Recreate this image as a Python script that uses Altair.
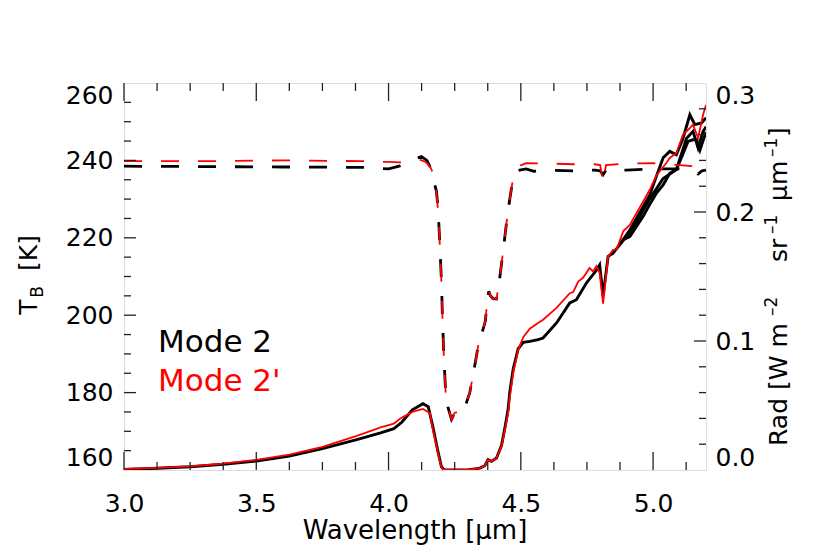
import altair as alt
import pandas as pd

# ---------------- data ----------------
# Radiance (right axis), red = Mode 2'
wl_rad_red = [3.00, 3.125, 3.25, 3.375, 3.50, 3.625, 3.75, 3.88, 3.97, 4.02, 4.045, 4.09, 4.13,
              4.156, 4.168, 4.187, 4.200, 4.210, 4.300, 4.345, 4.364, 4.376, 4.389, 4.408,
              4.427, 4.440, 4.452, 4.458, 4.471, 4.490, 4.509, 4.534, 4.565, 4.584, 4.635,
              4.685, 4.698, 4.717, 4.735, 4.760, 4.773, 4.786, 4.798, 4.811, 4.830, 4.849,
              4.862, 4.887, 4.912, 4.937, 4.962, 4.987, 5.013, 5.050, 5.063, 5.088, 5.113,
              5.139, 5.151, 5.170, 5.189, 5.200]
rad_red = [0.0008, 0.0016, 0.0028, 0.0049, 0.0078, 0.0119, 0.0180, 0.0265, 0.0330, 0.0360, 0.0400,
           0.0450, 0.0473, 0.0442, 0.0310, 0.0130, 0.0020, 0.0000, 0.0000, 0.0015, 0.0033,
           0.0080, 0.0067, 0.0093, 0.0183, 0.0310, 0.0440, 0.0560, 0.0750, 0.0930, 0.1030,
           0.1095, 0.1140, 0.1165, 0.1256, 0.1370, 0.1380, 0.1460, 0.1490, 0.1566, 0.1540,
           0.1580, 0.1527, 0.1290, 0.1656, 0.1707, 0.1710, 0.1850, 0.1900, 0.1990, 0.2080,
           0.2170, 0.2285, 0.2380, 0.2419, 0.2457, 0.2600, 0.2650, 0.2677, 0.2574, 0.2754,
           0.2830]

# Radiance, black = Mode 2 (main member)
wl_rad_blk = [3.00, 3.125, 3.25, 3.375, 3.50, 3.625, 3.75, 3.88, 3.97, 4.02, 4.05, 4.09, 4.13,
              4.150, 4.168, 4.187, 4.200, 4.210, 4.300, 4.345, 4.364, 4.376, 4.389, 4.408,
              4.427, 4.440, 4.452, 4.458, 4.471, 4.490, 4.509, 4.534, 4.565, 4.584, 4.635,
              4.685, 4.710, 4.748, 4.786, 4.798, 4.811, 4.830, 4.849, 4.874, 4.887, 4.912,
              4.962, 4.987, 5.013, 5.038, 5.063, 5.088, 5.113, 5.132, 5.151, 5.164, 5.177,
              5.200]
rad_blk = [0.0005, 0.0013, 0.0025, 0.0045, 0.0070, 0.0108, 0.0165, 0.0235, 0.0287, 0.0320,
           0.0370, 0.0467, 0.0514, 0.0490, 0.0330, 0.0140, 0.0025, 0.0000, 0.0000, 0.0015,
           0.0033, 0.0080, 0.0067, 0.0093, 0.0190, 0.0330, 0.0470, 0.0600, 0.0780, 0.0940,
           0.0990, 0.0997, 0.1010, 0.1023, 0.1140, 0.1295, 0.1320, 0.1450, 0.1550, 0.1590,
           0.1350, 0.1656, 0.1680, 0.1747, 0.1785, 0.1810, 0.1966, 0.2057, 0.2147, 0.2210,
           0.2300, 0.2330, 0.2450, 0.2547, 0.2560, 0.2560, 0.2480, 0.2620]

# Radiance, other black members (where they separate)
wl_rad_blk2 = [4.874, 4.912, 4.937, 4.987, 5.038, 5.088, 5.126, 5.151, 5.170, 5.189, 5.200]
rad_blk2 = [0.1747, 0.1840, 0.1920, 0.2100, 0.2260, 0.2328, 0.2570, 0.2625, 0.2496, 0.2625, 0.2660]
wl_rad_blk3 = [4.874, 4.912, 4.937, 4.987, 5.013, 5.038, 5.063, 5.088, 5.113, 5.139, 5.158,
               5.183, 5.200]
rad_blk3 = [0.1747, 0.1860, 0.1950, 0.2130, 0.2280, 0.2420, 0.2470, 0.2444, 0.2570, 0.2754,
            0.2677, 0.2690, 0.2730]

# Brightness temperature (left axis), dashed
wl_tb_red = [3.00, 3.30, 3.60, 3.90, 4.00, 4.05, 4.09, 4.118, 4.140, 4.156, 4.168, 4.181,
             4.187, 4.194, 4.200, 4.204, 4.209, 4.216, 4.225, 4.238, 4.250, 4.270, 4.285,
             4.295, 4.307, 4.319, 4.332, 4.342, 4.357, 4.366, 4.372, 4.379, 4.385, 4.395,
             4.408, 4.420, 4.433, 4.446, 4.458, 4.468, 4.477, 4.496, 4.520, 4.600, 4.700,
             4.780, 4.800, 4.811, 4.822, 4.900, 5.000, 5.100, 5.150, 5.170, 5.185, 5.200]
tb_red = [239.8, 239.8, 240.0, 239.8, 239.6, 239.5, 239.8, 240.2, 239.6, 238.5, 236.8, 231.6,
          227.3, 217.9, 208.4, 198.9, 189.4, 180.0, 176.1, 173.1, 174.8, 175.0, 175.5, 177.5,
          180.0, 184.3, 189.4, 193.3, 196.3, 198.5, 203.0, 206.2, 205.0, 204.3, 204.2, 209.5,
          216.5, 223.9, 229.9, 234.2, 236.8, 238.6, 239.3, 239.2, 239.0, 239.0, 238.8, 234.2,
          238.8, 239.2, 239.3, 238.8, 238.5, 237.7, 238.3, 238.6]

wl_tb_blk = [3.00, 3.30, 3.60, 3.90, 4.00, 4.04, 4.07, 4.10, 4.124, 4.145, 4.162, 4.172,
             4.181, 4.187, 4.194, 4.200, 4.204, 4.209, 4.216, 4.225, 4.238, 4.250, 4.270,
             4.285, 4.295, 4.307, 4.319, 4.332, 4.342, 4.357, 4.366, 4.372, 4.379, 4.385,
             4.395, 4.408, 4.420, 4.433, 4.446, 4.458, 4.468, 4.477, 4.496, 4.520, 4.550,
             4.600, 4.700, 4.780, 4.800, 4.811, 4.822, 4.900, 5.000, 5.100, 5.150, 5.170,
             5.185, 5.200]
tb_blk = [238.5, 238.4, 238.3, 238.2, 237.8, 238.5, 239.5, 240.4, 241.0, 240.0, 237.7, 234.5,
          232.0, 227.8, 218.2, 208.6, 199.0, 189.4, 180.0, 176.1, 173.1, 174.8, 175.0, 175.5,
          177.5, 180.0, 184.3, 189.4, 193.3, 196.3, 198.5, 203.0, 206.2, 205.0, 204.3, 204.2,
          209.5, 216.5, 223.9, 229.9, 234.2, 236.8, 237.5, 237.8, 237.2, 237.5, 237.3, 237.5,
          237.3, 236.3, 237.5, 237.5, 237.8, 237.8, 237.5, 236.5, 237.3, 237.5]

# axis ticks / labels
x_labels = [3.0, 3.5, 4.0, 4.5, 5.0]
x_minor = [3.125, 3.25, 3.375, 3.625, 3.75, 3.875, 4.125, 4.25, 4.375, 4.625, 4.75, 4.875, 5.125]
tb_labels = [160, 180, 200, 220, 240, 260]
tb_minor = [165, 170, 175, 185, 190, 195, 205, 210, 215, 225, 230, 235, 245, 250, 255]
rad_labels = [0.0, 0.1, 0.2, 0.3]
rad_minor = [0.02, 0.04, 0.06, 0.08, 0.12, 0.14, 0.16, 0.18, 0.22, 0.24, 0.26, 0.28]

# ---------------- layout ----------------
W, H = 582, 387
FONT = "DejaVu Sans"
AX = "#222222"

xs = alt.Scale(domain=[3.0, 5.2], nice=False, zero=False)
ts = alt.Scale(domain=[160, 260], nice=False, zero=False)
rs = alt.Scale(domain=[0.0, 0.3], nice=False, zero=False)

x_axis = alt.Axis(values=x_labels, format=".1f", title=None, ticks=False, domain=False,
                  grid=False, labelFont=FONT, labelFontSize=25, labelColor="black",
                  labelPadding=21, labelFlush=False)


def X(field="wl"):
    return alt.X(f"{field}:Q", scale=xs, axis=x_axis)


def frame(wl, v, name):
    return pd.DataFrame({"wl": wl, "v": v, "s": name})


rad_black_df = pd.concat([frame(wl_rad_blk, rad_blk, "b1"),
                          frame(wl_rad_blk2, rad_blk2, "b2"),
                          frame(wl_rad_blk3, rad_blk3, "b3")])
rad_red_df = frame(wl_rad_red, rad_red, "r")
tb_black_df = frame(wl_tb_blk, tb_blk, "b")
tb_red_df = frame(wl_tb_red, tb_red, "r")

left_axis = alt.Axis(values=tb_labels, orient="left", title=None, ticks=False, domain=False,
                     grid=False, labelFont=FONT, labelFontSize=25, labelColor="black",
                     labelPadding=11, labelFlush=True)
right_axis = alt.Axis(values=rad_labels, orient="right", format=".1f", title=None, ticks=False,
                      domain=False, grid=False, labelFont=FONT, labelFontSize=25,
                      labelColor="black", labelPadding=9, labelFlush=True)

tb_black = alt.Chart(tb_black_df).mark_line(
    color="black", strokeWidth=2.8, strokeDash=[18, 19], clip=True
).encode(x=X(), y=alt.Y("v:Q", scale=ts, axis=left_axis), order="wl:Q")

tb_red = alt.Chart(tb_red_df).mark_line(
    color="#ff0000", strokeWidth=1.8, strokeDash=[18, 19], clip=True
).encode(x=X(), y=alt.Y("v:Q", scale=ts, axis=None), order="wl:Q")

rad_black = alt.Chart(rad_black_df).mark_line(
    color="black", strokeWidth=2.9, clip=True
).encode(x=X(), y=alt.Y("v:Q", scale=rs, axis=right_axis), detail="s:N", order="wl:Q")

rad_red_l = alt.Chart(rad_red_df).mark_line(
    color="#ff0000", strokeWidth=1.8, clip=True
).encode(x=X(), y=alt.Y("v:Q", scale=rs, axis=None), order="wl:Q")

# tick marks (inward), drawn through the scales
xmaj_df = pd.DataFrame({"wl": x_labels})
xmin_df = pd.DataFrame({"wl": x_minor})


def xticks(df, length):
    bot = alt.Chart(df).mark_rule(color=AX, strokeWidth=1.3).encode(
        x=X(), y=alt.value(H), y2=alt.value(H - length))
    top = alt.Chart(df).mark_rule(color=AX, strokeWidth=1.3).encode(
        x=X(), y=alt.value(0), y2=alt.value(length))
    return [bot, top]


def yticks(vals, scale, x0, x1):
    df = pd.DataFrame({"t": vals})
    return alt.Chart(df).mark_rule(color=AX, strokeWidth=1.3).encode(
        y=alt.Y("t:Q", scale=scale, axis=None), x=alt.value(x0), x2=alt.value(x1))


tick_layers = (xticks(xmaj_df, 18) + xticks(xmin_df, 8) + [
    yticks(tb_labels[1:-1], ts, 0, 12),
    yticks(tb_minor, ts, 0, 7),
    yticks(rad_labels[1:-1], rs, W, W - 12),
    yticks(rad_minor, rs, W, W - 7),
])


def txt(text, x, y, size=25, color="black", angle=0, align="center", baseline="middle"):
    return alt.Chart(pd.DataFrame({"t": [text]})).mark_text(
        font=FONT, fontSize=size, color=color, angle=angle, align=align, baseline=baseline
    ).encode(text="t:N", x=alt.value(x), y=alt.value(y))


# right-hand axis title, built from pieces so the exponents are raised
RX = 663      # baseline of the rotated title (plot coordinates)
RXS = 653     # baseline of the exponents
right_title = [
    txt("Rad [W m", RX, 446 - 83, angle=270, align="left", baseline="alphabetic"),
    txt("–2", RXS, 316 - 83, size=17, angle=270, align="left", baseline="alphabetic"),
    txt("sr", RX, 262 - 83, angle=270, align="left", baseline="alphabetic"),
    txt("–1", RXS, 234 - 83, size=17, angle=270, align="left", baseline="alphabetic"),
    txt("μm", RX, 201 - 83, angle=270, align="left", baseline="alphabetic"),
    txt("–1", RXS, 157 - 83, size=17, angle=270, align="left", baseline="alphabetic"),
    txt("]", RX, 137 - 83, angle=270, align="left", baseline="alphabetic"),
]

texts = [
    txt("Wavelength [μm]", W / 2, 448, size=26),
    txt("T", -95, 224, angle=270),
    txt("B", -86, 209, size=17, angle=270),
    txt("[K]", -95, 170, angle=270),
    txt("Mode 2", 34, 260, size=31, align="left"),
    txt("Mode 2'", 34, 299, size=31, color="#ff0000", align="left"),
] + right_title

chart = alt.layer(
    tb_black, rad_black, tb_red, rad_red_l, *tick_layers, *texts
).resolve_scale(y="independent").properties(
    width=W, height=H,
    autosize=alt.AutoSizeParams(type="none"),
    padding={"left": 116, "top": 75, "right": 116, "bottom": 76},
).configure_view(stroke=AX, strokeWidth=1.5).configure(background="white")

chart.save("out.html", embed_options={"renderer": "svg", "actions": False})
